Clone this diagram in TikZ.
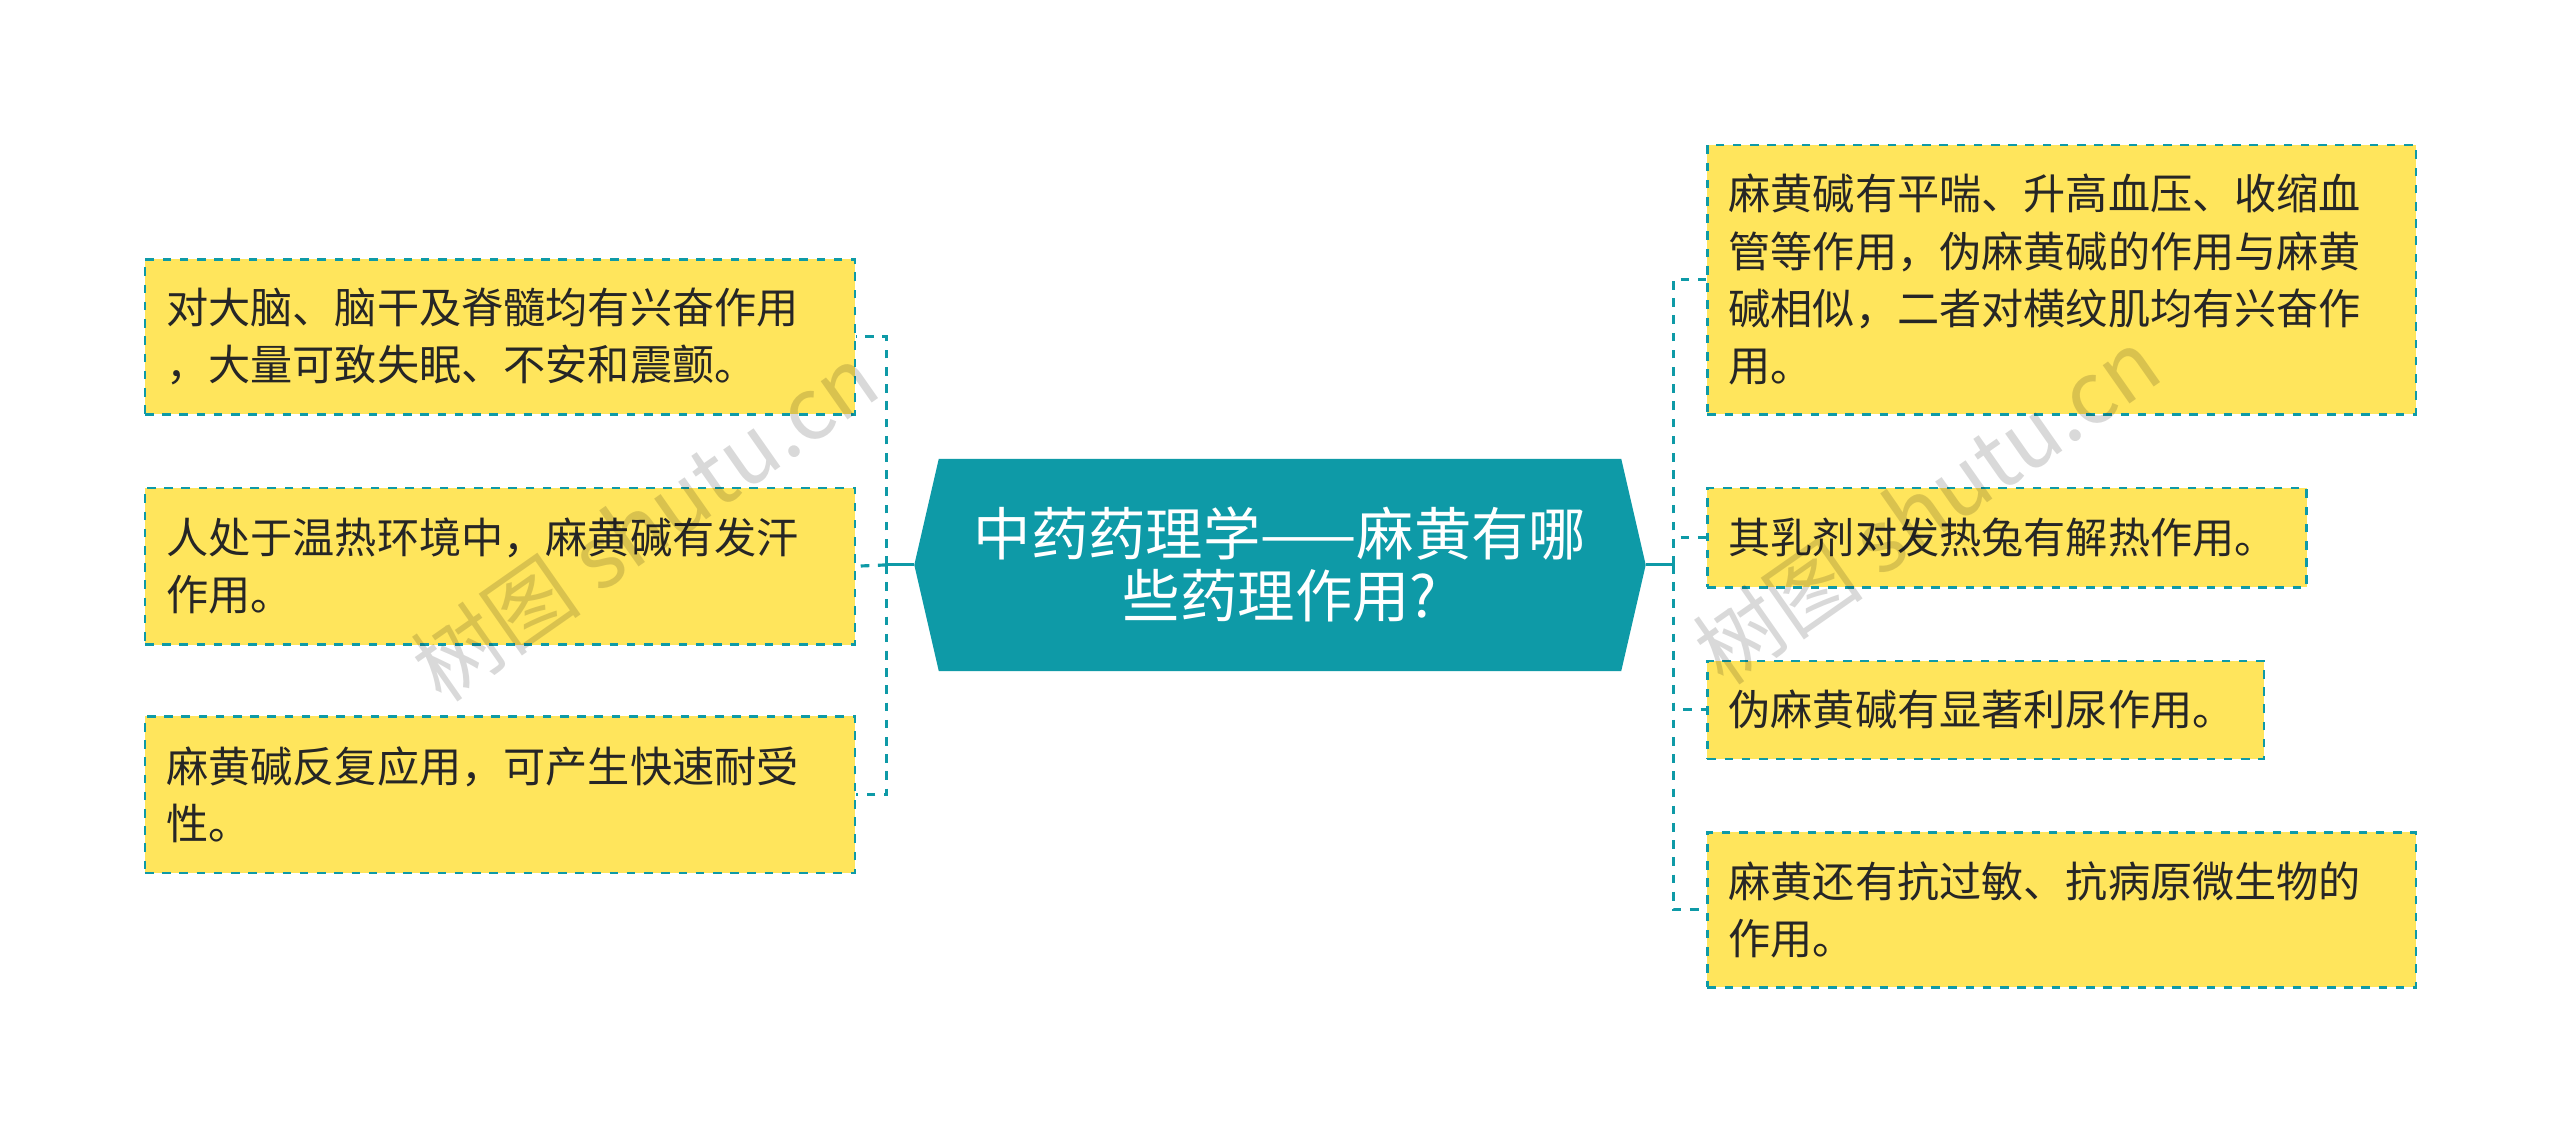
\documentclass[tikz,border=0pt]{standalone}
\usepackage{fontspec}
\setmainfont{Noto Sans CJK SC}
\usetikzlibrary{shapes.geometric,calc}
\definecolor{teal1}{HTML}{0E9AA7}
\definecolor{yel}{HTML}{FFE55C}
\tikzset{
  box/.style={draw=teal1, dashed, line width=0.9pt, fill=yel, anchor=north west, align=left,
    inner xsep=0.26cm, inner ysep=0cm, font=\fontsize{14.7pt}{0.7cm}\selectfont, text=black!85},
  conn/.style={draw=teal1, line width=1.1pt},
  dconn/.style={draw=teal1, line width=1.1pt, dashed},
  wm/.style={text=black, opacity=0.15, font=\fontsize{30pt}{30pt}\selectfont, rotate=35}
}
\begin{document}
\begin{tikzpicture}[x=0.02cm,y=-0.02cm]
\useasboundingbox[fill=white] (0,0) rectangle (1568,693);
% centre
\fill[teal1] (560,346) -- (575,281) -- (993,281) -- (1008,346) -- (993,411) -- (575,411) -- cycle;
\node[text=white, align=center, font=\fontsize{20pt}{0.76cm}\selectfont] (c) at (784,346) {中药药理学——麻黄有哪\\些药理作用?};
\coordinate (cl) at (560,346);
\coordinate (cr) at (1008,346);
% left boxes
\node[box, text width=8.18cm, minimum height=1.9cm] (l1) at (88,158) {对大脑、脑干及脊髓均有兴奋作用\\，大量可致失眠、不安和震颤。};
\node[box, text width=8.18cm, minimum height=1.92cm] (l2) at (88,298) {人处于温热环境中，麻黄碱有发汗\\作用。};
\node[box, text width=8.18cm, minimum height=1.92cm] (l3) at (88,438) {麻黄碱反复应用，可产生快速耐受\\性。};
% right boxes
\node[box, text width=8.16cm, minimum height=3.3cm] (r1) at (1045,88) {麻黄碱有平喘、升高血压、收缩血\\管等作用，伪麻黄碱的作用与麻黄\\碱相似，二者对横纹肌均有兴奋作\\用。};
\node[box, text width=6.82cm, minimum height=1.22cm] (r2) at (1045,298) {其乳剂对发热兔有解热作用。};
\node[box, text width=6.3cm, minimum height=1.2cm] (r3) at (1045,404) {伪麻黄碱有显著利尿作用。};
\node[box, text width=8.16cm, minimum height=1.9cm] (r4) at (1045,509) {麻黄还有抗过敏、抗病原微生物的\\作用。};
% connectors
\coordinate (lj) at (543,346);
\coordinate (rj) at (1025,346);
\draw[conn] (cl) -- (lj);
\draw[conn] (cr) -- (rj);
\draw[dconn] (lj) |- (l1.east);
\draw[dconn] (lj) -- (l2.east);
\draw[dconn] (lj) |- (l3.east);
\draw[dconn] (rj) |- (r1.west);
\draw[dconn] (rj) |- (r2.west);
\draw[dconn] (rj) |- (r3.west);
\draw[dconn] (rj) |- (r4.west);
% watermarks
\node[wm] at (395,320) {树图 shutu.cn};
\node[wm] at (1180,310) {树图 shutu.cn};
\end{tikzpicture}
\end{document}
